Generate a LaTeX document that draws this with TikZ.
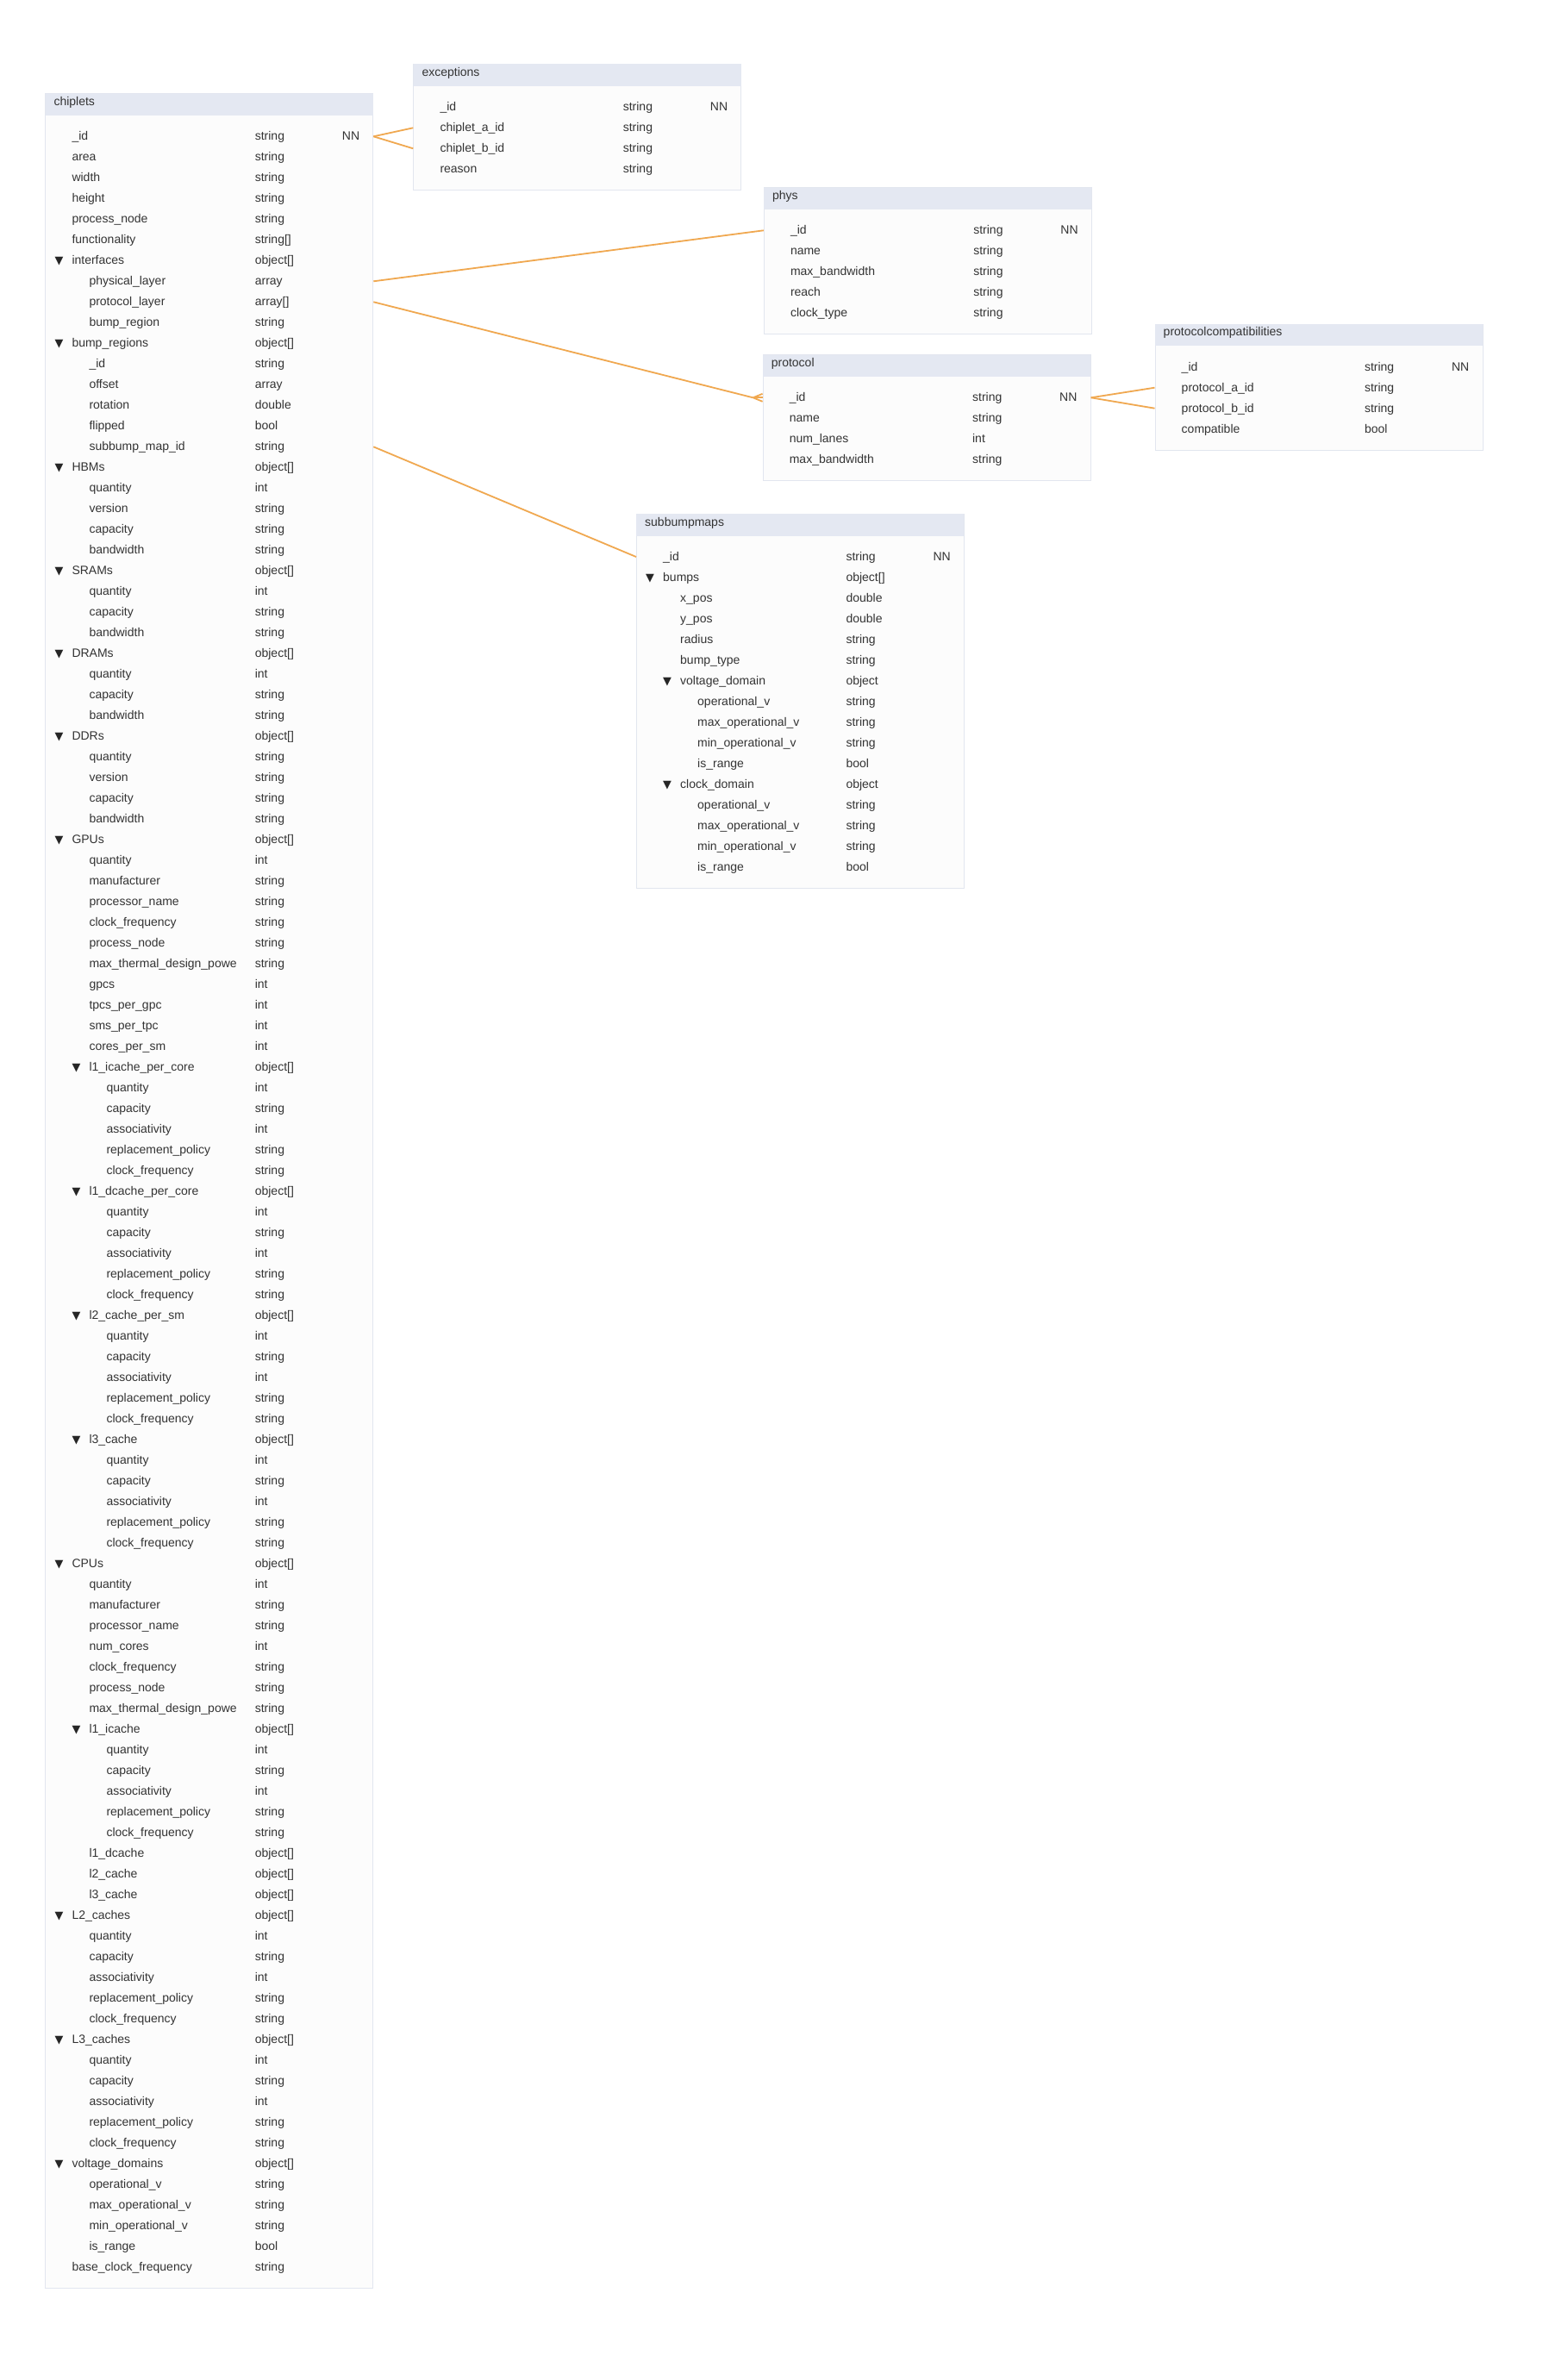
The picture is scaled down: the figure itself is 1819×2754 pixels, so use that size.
\documentclass[tikz,border=0pt]{standalone}
\usepackage{fontspec}
\setmainfont{Liberation Sans}
\newfontfamily\trifont{DejaVu Sans}
\usetikzlibrary{calc}
\definecolor{headfill}{HTML}{E4E8F2}
\definecolor{bodyfill}{HTML}{FCFCFC}
\definecolor{bordercol}{HTML}{E2E6EF}
\definecolor{txtcol}{HTML}{333333}
\definecolor{relcol}{HTML}{F0A850}
\tikzset{
  tabbody/.style={draw=bordercol, fill=bodyfill, line width=1pt, inner sep=0pt, minimum width=380pt, anchor=north west},
  tabhead/.style={fill=headfill, inner sep=0pt, minimum width=380pt, minimum height=25.3pt, anchor=north west},
  titletxt/.style={anchor=base west, inner sep=0pt, text=txtcol, font=\fontsize{14}{16}\selectfont},
  rowtxt/.style={anchor=base west, inner sep=0pt, text=txtcol, font=\fontsize{14}{16}\selectfont},
  tritxt/.style={anchor=base west, inner sep=0pt, text=black!85, font=\trifont\fontsize{12.8}{14}\selectfont},
  rel/.style={draw=relcol, line width=1.8pt}
}
% #1 name, #2 L, #3 T, #4 number of rows, #5 title
\newcommand\dbtable[5]{%
  \node[tabbody, minimum height={50pt+24pt*#4}] (#1) at (#2,#3) {};
  \node[tabhead] (#1-head) at (#2,#3) {};
  \node[titletxt] (#1-title) at ({#2+10},{#3+14}) {#5};
}
% #1 name, #2 L, #3 T, #4 rows
\newcommand\dbrows[4]{%
  \foreach \lv/\tr/\nm/\ty [count=\i from 0] in {#4}{%
    \pgfmathsetmacro\cy{#3+50+24*\i}
    \coordinate (#1-r\i) at (#2,\cy);
    \node[rowtxt] (#1-n\i) at ({#2+31+20*\lv},{\cy+4.5}) {\nm};
    \node[rowtxt] (#1-t\i) at ({#2+243.3},{\cy+4.5}) {\ty};
    \ifnum\tr=1 \node[tritxt] (#1-k\i) at ({#2+31+20*\lv-20},{\cy+4.5}) {▼};\fi
  }%
}
\newcommand\nnmark[3]{% name, L, T
  \node[rowtxt] (#1-nn) at ({#2+344.4},{#3+54.5}) {NN};
}
\begin{document}
\catcode`\_=12
\begin{tikzpicture}[x=1pt,y=-1pt]
\useasboundingbox[fill=white] (0,0) rectangle (1819,2754);

% chiplets
\dbtable{chiplets}{52.3}{108.3}{104}{chiplets}
\dbrows{chiplets}{52.3}{108.3}{
0/0/_id/string, 0/0/area/string, 0/0/width/string, 0/0/height/string, 0/0/process_node/string, 0/0/functionality/string[],
0/1/interfaces/object[], 1/0/physical_layer/array, 1/0/protocol_layer/array[], 1/0/bump_region/string,
0/1/bump_regions/object[], 1/0/_id/string, 1/0/offset/array, 1/0/rotation/double, 1/0/flipped/bool, 1/0/subbump_map_id/string,
0/1/HBMs/object[], 1/0/quantity/int, 1/0/version/string, 1/0/capacity/string, 1/0/bandwidth/string,
0/1/SRAMs/object[], 1/0/quantity/int, 1/0/capacity/string, 1/0/bandwidth/string,
0/1/DRAMs/object[], 1/0/quantity/int, 1/0/capacity/string, 1/0/bandwidth/string,
0/1/DDRs/object[], 1/0/quantity/string, 1/0/version/string, 1/0/capacity/string, 1/0/bandwidth/string,
0/1/GPUs/object[], 1/0/quantity/int, 1/0/manufacturer/string, 1/0/processor_name/string, 1/0/clock_frequency/string, 1/0/process_node/string, 1/0/max_thermal_design_powe/string, 1/0/gpcs/int, 1/0/tpcs_per_gpc/int, 1/0/sms_per_tpc/int, 1/0/cores_per_sm/int,
1/1/l1_icache_per_core/object[], 2/0/quantity/int, 2/0/capacity/string, 2/0/associativity/int, 2/0/replacement_policy/string, 2/0/clock_frequency/string,
1/1/l1_dcache_per_core/object[], 2/0/quantity/int, 2/0/capacity/string, 2/0/associativity/int, 2/0/replacement_policy/string, 2/0/clock_frequency/string,
1/1/l2_cache_per_sm/object[], 2/0/quantity/int, 2/0/capacity/string, 2/0/associativity/int, 2/0/replacement_policy/string, 2/0/clock_frequency/string,
1/1/l3_cache/object[], 2/0/quantity/int, 2/0/capacity/string, 2/0/associativity/int, 2/0/replacement_policy/string, 2/0/clock_frequency/string,
0/1/CPUs/object[], 1/0/quantity/int, 1/0/manufacturer/string, 1/0/processor_name/string, 1/0/num_cores/int, 1/0/clock_frequency/string, 1/0/process_node/string, 1/0/max_thermal_design_powe/string,
1/1/l1_icache/object[], 2/0/quantity/int, 2/0/capacity/string, 2/0/associativity/int, 2/0/replacement_policy/string, 2/0/clock_frequency/string,
1/0/l1_dcache/object[], 1/0/l2_cache/object[], 1/0/l3_cache/object[],
0/1/L2_caches/object[], 1/0/quantity/int, 1/0/capacity/string, 1/0/associativity/int, 1/0/replacement_policy/string, 1/0/clock_frequency/string,
0/1/L3_caches/object[], 1/0/quantity/int, 1/0/capacity/string, 1/0/associativity/int, 1/0/replacement_policy/string, 1/0/clock_frequency/string,
0/1/voltage_domains/object[], 1/0/operational_v/string, 1/0/max_operational_v/string, 1/0/min_operational_v/string, 1/0/is_range/bool,
0/0/base_clock_frequency/string}
\nnmark{chiplets}{52.3}{108.3}

% exceptions
\dbtable{exceptions}{479.3}{74.3}{4}{exceptions}
\dbrows{exceptions}{479.3}{74.3}{0/0/_id/string, 0/0/chiplet_a_id/string, 0/0/chiplet_b_id/string, 0/0/reason/string}
\nnmark{exceptions}{479.3}{74.3}

% phys
\dbtable{phys}{885.8}{217.3}{5}{phys}
\dbrows{phys}{885.8}{217.3}{0/0/_id/string, 0/0/name/string, 0/0/max_bandwidth/string, 0/0/reach/string, 0/0/clock_type/string}
\nnmark{phys}{885.8}{217.3}

% protocol
\dbtable{protocol}{884.6}{411.3}{4}{protocol}
\dbrows{protocol}{884.6}{411.3}{0/0/_id/string, 0/0/name/string, 0/0/num_lanes/int, 0/0/max_bandwidth/string}
\nnmark{protocol}{884.6}{411.3}

% protocolcompatibilities
\dbtable{pcompat}{1339.5}{375.7}{4}{protocolcompatibilities}
\dbrows{pcompat}{1339.5}{375.7}{0/0/_id/string, 0/0/protocol_a_id/string, 0/0/protocol_b_id/string, 0/0/compatible/bool}
\nnmark{pcompat}{1339.5}{375.7}

% subbumpmaps
\dbtable{subbump}{738}{596}{16}{subbumpmaps}
\dbrows{subbump}{738}{596}{0/0/_id/string, 0/1/bumps/object[], 1/0/x_pos/double, 1/0/y_pos/double, 1/0/radius/string, 1/0/bump_type/string,
1/1/voltage_domain/object, 2/0/operational_v/string, 2/0/max_operational_v/string, 2/0/min_operational_v/string, 2/0/is_range/bool,
1/1/clock_domain/object, 2/0/operational_v/string, 2/0/max_operational_v/string, 2/0/min_operational_v/string, 2/0/is_range/bool}
\nnmark{subbump}{738}{596}

% relations
\draw[rel] (chiplets.east |- chiplets-r0) -- (exceptions.west |- exceptions-r1);
\draw[rel] (chiplets.east |- chiplets-r0) -- (exceptions.west |- exceptions-r2);
\draw[rel] (chiplets.east |- chiplets-r7) -- (phys.west |- phys-r0);
\coordinate (cfoot) at ($(protocol.west |- protocol-r0)+(-11,0)$);
\draw[rel] (chiplets.east |- chiplets-r8) -- (cfoot);
\draw[rel] (cfoot) -- ($(protocol.west |- protocol-r0)+(0,-4.5)$);
\draw[rel] (cfoot) -- (protocol.west |- protocol-r0);
\draw[rel] (cfoot) -- ($(protocol.west |- protocol-r0)+(0,4.5)$);
\draw[rel] (chiplets.east |- chiplets-r15) -- (subbump.west |- subbump-r0);
\draw[rel] (protocol.east |- protocol-r0) -- (pcompat.west |- pcompat-r1);
\draw[rel] (protocol.east |- protocol-r0) -- (pcompat.west |- pcompat-r2);
\end{tikzpicture}
\end{document}
